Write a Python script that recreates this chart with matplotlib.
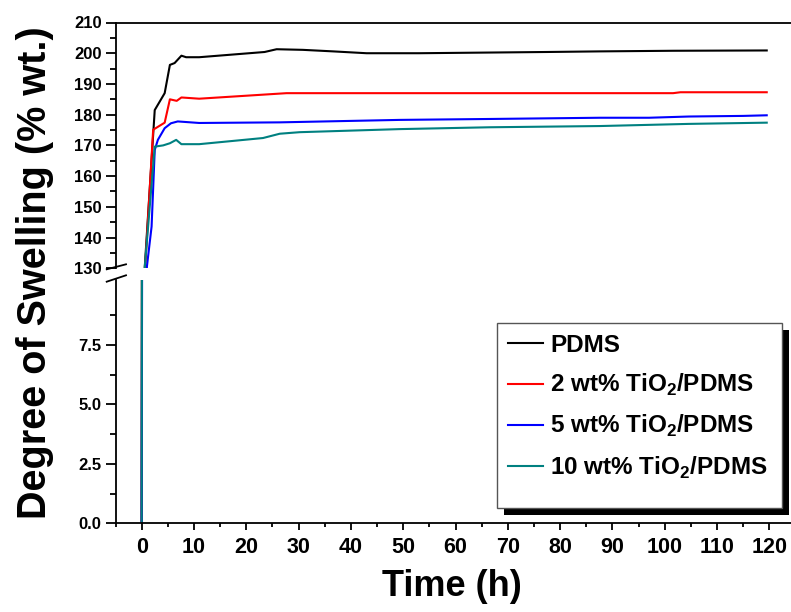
import matplotlib
matplotlib.use("Agg")
import matplotlib.pyplot as plt
from matplotlib.ticker import MultipleLocator, FixedLocator
from matplotlib.patches import Rectangle

# swelling data, time in h, swelling in % wt.
t_pdms = [0, 0.6, 2.5, 4.4, 5.4, 6.3, 7.6, 8.5, 11, 23.5, 25.8, 30.8, 36.6, 43, 53, 77.4, 87.6, 101.6, 119.5]
pdms = [0, 130.5, 181.5, 187.0, 196.2, 196.8, 199.2, 198.7, 198.7, 200.4, 201.3, 201.1, 200.6, 200.0, 200.0, 200.4, 200.6, 200.8, 200.9]

t_ti2 = [0, 0.7, 2.2, 4.4, 5.4, 6.7, 7.6, 11, 27.7, 101.6, 103, 119.5]
ti2 = [0, 131.0, 175.1, 177.4, 185.0, 184.5, 185.6, 185.2, 187.0, 187.0, 187.3, 187.3]

t_ti5 = [0, 1.0, 1.9, 2.5, 3.1, 4.4, 5.6, 6.9, 11, 26.4, 49.3, 66.5, 87.6, 97, 104.6, 115, 119.5]
ti5 = [0, 130.5, 143.6, 168.5, 171.8, 175.6, 177.2, 177.8, 177.3, 177.5, 178.3, 178.6, 179.0, 179.0, 179.4, 179.6, 179.8]

t_ti10 = [0, 0.6, 2.5, 4.1, 5.4, 6.6, 7.6, 11, 23.2, 26.4, 30.2, 49.3, 66.5, 87.6, 104.6, 119.5]
ti10 = [0, 130.5, 169.6, 170.0, 170.7, 171.8, 170.4, 170.4, 172.4, 173.8, 174.3, 175.3, 175.9, 176.3, 177.0, 177.4]

series = [
    (t_pdms, pdms, "black", "PDMS"),
    (t_ti2, ti2, "#ff0000", r"2 wt% TiO$_\mathbf{2}$/PDMS"),
    (t_ti5, ti5, "#0000ff", r"5 wt% TiO$_\mathbf{2}$/PDMS"),
    (t_ti10, ti10, "#008080", r"10 wt% TiO$_\mathbf{2}$/PDMS"),
]

plt.rcParams["font.family"] = ["Liberation Sans", "DejaVu Sans"]
plt.rcParams["font.weight"] = "bold"
plt.rcParams["mathtext.fontset"] = "custom"
plt.rcParams["mathtext.rm"] = "Liberation Sans:bold"
plt.rcParams["mathtext.bf"] = "Liberation Sans:bold"

W, H = 791, 612
fig = plt.figure(figsize=(W / 100, H / 100), dpi=100)

def fx(p):
    return p / W

def fy(p):
    return 1 - p / H

left, right = fx(115.5), fx(795.5)
ax_top = fig.add_axes([left, fy(268.3), right - left, fy(22.5) - fy(268.3)])
ax_low = fig.add_axes([left, fy(523.3), right - left, fy(280) - fy(523.3)], sharex=ax_top)

for ax in (ax_top, ax_low):
    for t, y, c, lab in series:
        ax.plot(t, y, color=c, lw=1.5, label=lab)
    ax.spines["right"].set_visible(False)
    for s in ax.spines.values():
        s.set_linewidth(1.3)
    ax.tick_params(which="both", direction="out", width=1.3)

ax_top.set_xlim(-5, 125)
ax_top.set_ylim(130, 210)
ax_low.set_ylim(0, 10.23)

ax_top.spines["bottom"].set_visible(False)
ax_top.tick_params(axis="x", which="both", bottom=False, labelbottom=False)
ax_low.spines["top"].set_visible(False)

ax_top.yaxis.set_major_locator(MultipleLocator(10))
ax_top.yaxis.set_minor_locator(MultipleLocator(5))
ax_low.yaxis.set_major_locator(FixedLocator([0, 2.5, 5, 7.5]))
ax_low.yaxis.set_minor_locator(FixedLocator([1.25, 3.75, 6.25, 8.75]))
ax_low.xaxis.set_major_locator(MultipleLocator(10))
ax_low.xaxis.set_minor_locator(MultipleLocator(5))

for ax in (ax_top, ax_low):
    ax.tick_params(axis="y", which="major", length=7, pad=3, labelsize=12)
    ax.tick_params(axis="y", which="minor", length=4)
ax_low.tick_params(axis="x", which="major", length=5, pad=5, labelsize=15.5)
ax_low.tick_params(axis="x", which="minor", length=3)
ax_low.yaxis.set_major_formatter(plt.FormatStrFormatter("%.1f"))

# axis break marks
for y0, y1 in [(269.3, 264.3), (281.7, 275.3)]:
    fig.add_artist(plt.Line2D([fx(106.7), fx(126)], [fy(y0), fy(y1)], color="black", lw=1.3))

fig.text(fx(35), fy(273), "Degree of Swelling (% wt.)", rotation=90, ha="center", va="center",
         fontsize=28.5, fontweight="bold")
fig.text(fx(452), fy(587), "Time (h)", ha="center", va="center", fontsize=26, fontweight="bold")

# legend box with a solid black drop shadow, Origin style
box = (fx(497), fy(508), fx(782) - fx(497), fy(323) - fy(508))
ax_low.add_artist(Rectangle((box[0] + fx(7), box[1] - 7 / H), box[2], box[3], transform=fig.transFigure,
                            facecolor="black", edgecolor="none", zorder=5))
ax_low.add_artist(Rectangle(box[:2], box[2], box[3], transform=fig.transFigure,
                            facecolor="white", edgecolor="#555555", lw=1.0, zorder=5.5))
leg = ax_low.legend(loc="upper left", bbox_to_anchor=(fx(497), fy(323)),
                    bbox_transform=fig.transFigure, borderaxespad=0, frameon=False,
                    fontsize=17.5, handlelength=1.45, handletextpad=0.3, labelspacing=0.62,
                    borderpad=0.45)
leg.set_zorder(6)

fig.savefig("out.png", dpi=100)
